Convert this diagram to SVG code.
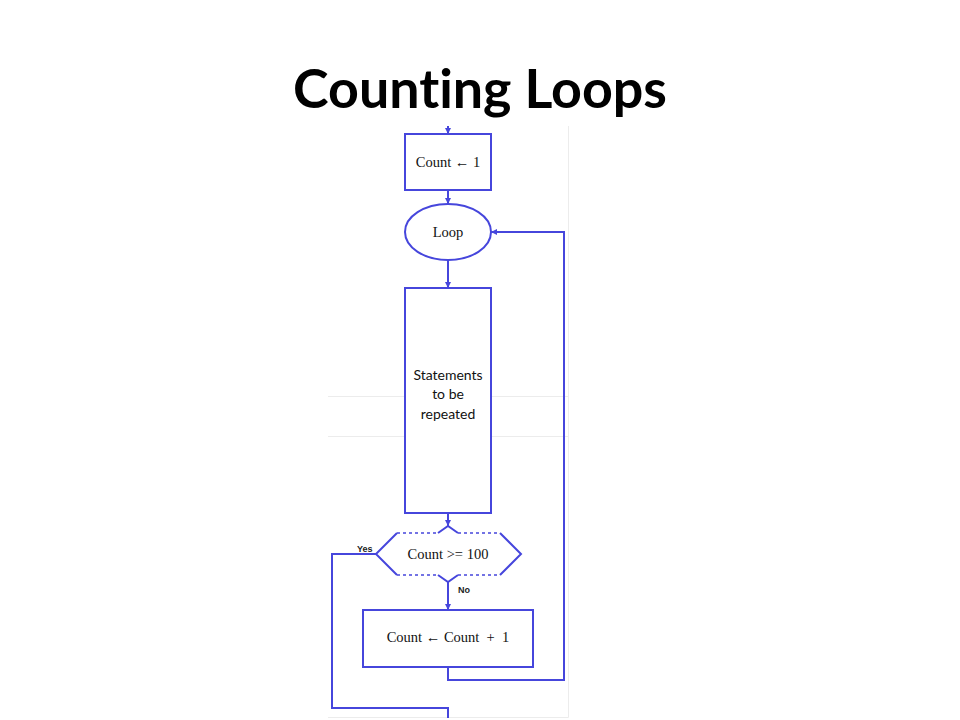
<svg xmlns="http://www.w3.org/2000/svg" width="960" height="720" viewBox="0 0 960 720">
<style>
.s{fill:#fff;stroke:#4646dc;stroke-width:2}
.c{fill:none;stroke:#4646dc;stroke-width:2}
.d{fill:none;stroke:#4646dc;stroke-width:1.5;stroke-dasharray:3,3}
.t{font-family:"Liberation Serif","Times New Roman",serif;font-size:14.5px;fill:#111;text-anchor:middle}
.l{font-family:Lato,"Open Sans",sans-serif;font-size:14px;fill:#111;text-anchor:middle}
.y{font-family:"Liberation Sans",Arial,sans-serif;font-size:9px;font-weight:bold;fill:#222}
.f{stroke:#ececec;stroke-width:1;fill:none}
</style>
<defs>
<marker id="a" viewBox="0 0 6 6" refX="6" refY="3" markerWidth="3" markerHeight="3" orient="auto" markerUnits="strokeWidth">
<path d="M0,0L6,3L0,6z" fill="#4646dc"/>
</marker>
</defs>
<rect width="960" height="720" fill="#fff"/>
<g id="frame">
<path class="f" d="M568.5,126V717.5H328M328,396.5H568M328,436.5H568"/>
</g>
<text x="480" y="108" font-family="Lato,'Open Sans',sans-serif" font-size="53" font-weight="bold" text-anchor="middle" textLength="374" lengthAdjust="spacingAndGlyphs" fill="#000" style="font-variant-ligatures:none">Counting Loops</text>
<g id="connectors">
<path class="c" d="M448,126V134" marker-end="url(#a)"/>
<path class="c" d="M448,190V204" marker-end="url(#a)"/>
<path class="c" d="M448,260V288" marker-end="url(#a)"/>
<path class="c" d="M448,513V526" marker-end="url(#a)"/>
<path class="c" d="M448,582V610" marker-end="url(#a)"/>
<path class="c" d="M448,667V680H564V232H491" marker-end="url(#a)"/>
<path class="c" d="M376,554H332V708H448V718"/>
<text class="y" x="357" y="552">Yes</text>
<text class="y" x="458" y="593">No</text>
</g>
<g id="init">
<rect class="s" x="405" y="134" width="86" height="56"/>
<text class="t" x="448" y="167">Count ← 1</text>
</g>
<g id="loop">
<ellipse class="s" cx="448" cy="232" rx="43" ry="28"/>
<text class="t" x="448" y="237">Loop</text>
</g>
<g id="statements">
<rect class="s" x="405" y="288" width="86" height="225"/>
<text class="l" x="448" y="380">Statements</text>
<text class="l" x="448" y="399">to be</text>
<text class="l" x="448" y="419">repeated</text>
</g>
<g id="decision">
<path fill="#fff" d="M376,554L397,533H438L448,526L458,533H500L521,554L500,575H458L448,582L438,575H397Z"/>
<path class="c" d="M397,533L376,554L397,575M500,533L521,554L500,575M438,533L448,526L458,533M438,575L448,582L458,575"/>
<path class="d" d="M397,533H438M458,533H500M397,575H438M458,575H500"/>
<text class="t" x="448" y="559">Count &gt;= 100</text>
</g>
<g id="increment">
<rect class="s" x="363" y="610" width="170" height="57"/>
<text class="t" x="448" y="642" xml:space="preserve">Count ← Count  +  1</text>
</g>
</svg>
